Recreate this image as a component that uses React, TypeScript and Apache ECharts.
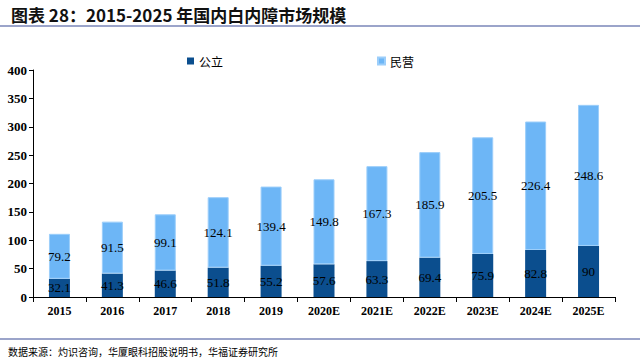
import React, { useEffect, useRef } from "react";
import * as echarts from "echarts";

const categories = ["2015", "2016", "2017", "2018", "2019", "2020E", "2021E", "2022E", "2023E", "2024E", "2025E"];
const publicValues = [32.1, 41.3, 46.6, 51.8, 55.2, 57.6, 63.3, 69.4, 75.9, 82.8, 90];
const privateValues = [79.2, 91.5, 99.1, 124.1, 139.4, 149.8, 167.3, 185.9, 205.5, 226.4, 248.6];
const seriesNames = ["公立", "民营"];

export default function App() {
  const ref = useRef<HTMLDivElement>(null);
  useEffect(() => {
    if (!ref.current) return;
    const chart = echarts.init(ref.current, null, { renderer: "svg" });
    const labelStyle = {
      show: true,
      position: "inside" as const,
      color: "#000",
      fontFamily: "Liberation Serif",
      fontSize: 13,
    };
    chart.setOption({
      animation: false,
      backgroundColor: "#fff",
      title: {
        text: "图表 28：2015-2025 年国内白内障市场规模",
        left: 6,
        top: 1,
        textStyle: { fontFamily: "Noto Sans CJK SC", fontSize: 17, fontWeight: "bold", color: "#111" },
      },
      graphic: [
        { type: "line", shape: { x1: 0, y1: 26, x2: 640, y2: 26 }, style: { stroke: "#7A86B8", lineWidth: 1.5 } },
        { type: "line", shape: { x1: 0, y1: 339, x2: 640, y2: 339 }, style: { stroke: "#7A86B8", lineWidth: 1.5 } },
        {
          type: "text",
          left: 8,
          top: 346,
          style: { text: "数据来源：灼识咨询，华厦眼科招股说明书，华福证券研究所", fontFamily: "Noto Sans CJK SC", fontSize: 10, fill: "#000" },
        },
      ],
      legend: [
        {
          data: [seriesNames[0]],
          left: 182,
          top: 50,
          itemWidth: 7,
          itemHeight: 7,
          itemGap: 4,
          icon: "rect",
          textStyle: { fontFamily: "Noto Sans CJK SC", fontSize: 12, color: "#000" },
        },
        {
          data: [seriesNames[1]],
          left: 372,
          top: 50,
          itemWidth: 7,
          itemHeight: 7,
          icon: "rect",
          textStyle: { fontFamily: "Noto Sans CJK SC", fontSize: 12, color: "#000" },
        },
      ],
      grid: { left: 33, right: 25, top: 70, bottom: 67 },
      xAxis: {
        type: "category",
        data: categories,
        axisLine: { lineStyle: { color: "#000", width: 1 } },
        axisTick: { show: true, inside: false, length: 5, lineStyle: { color: "#000" } },
        axisLabel: { fontFamily: "Liberation Serif", fontWeight: "bold", fontSize: 12, color: "#000", margin: 8 },
      },
      yAxis: {
        type: "value",
        min: 0,
        max: 400,
        interval: 50,
        splitLine: { show: false },
        axisLine: { show: true, lineStyle: { color: "#000", width: 1 } },
        axisTick: { show: true, length: 4, lineStyle: { color: "#000" } },
        axisLabel: { fontFamily: "Liberation Serif", fontWeight: "bold", fontSize: 13, color: "#000", margin: 6 },
      },
      series: [
        {
          name: seriesNames[0],
          type: "bar",
          stack: "total",
          data: publicValues,
          barWidth: 21,
          itemStyle: { color: "#0B4E8E" },
          label: labelStyle,
        },
        {
          name: seriesNames[1],
          type: "bar",
          stack: "total",
          data: privateValues,
          barWidth: 21,
          itemStyle: { color: "#6DB6F6", borderColor: "#9CCEFA", borderWidth: 1 },
          label: labelStyle,
        },
      ],
    });
    return () => chart.dispose();
  }, []);
  return <div ref={ref} style={{ width: 640, height: 364, position: "absolute", left: 0, top: 0 }} />;
}
